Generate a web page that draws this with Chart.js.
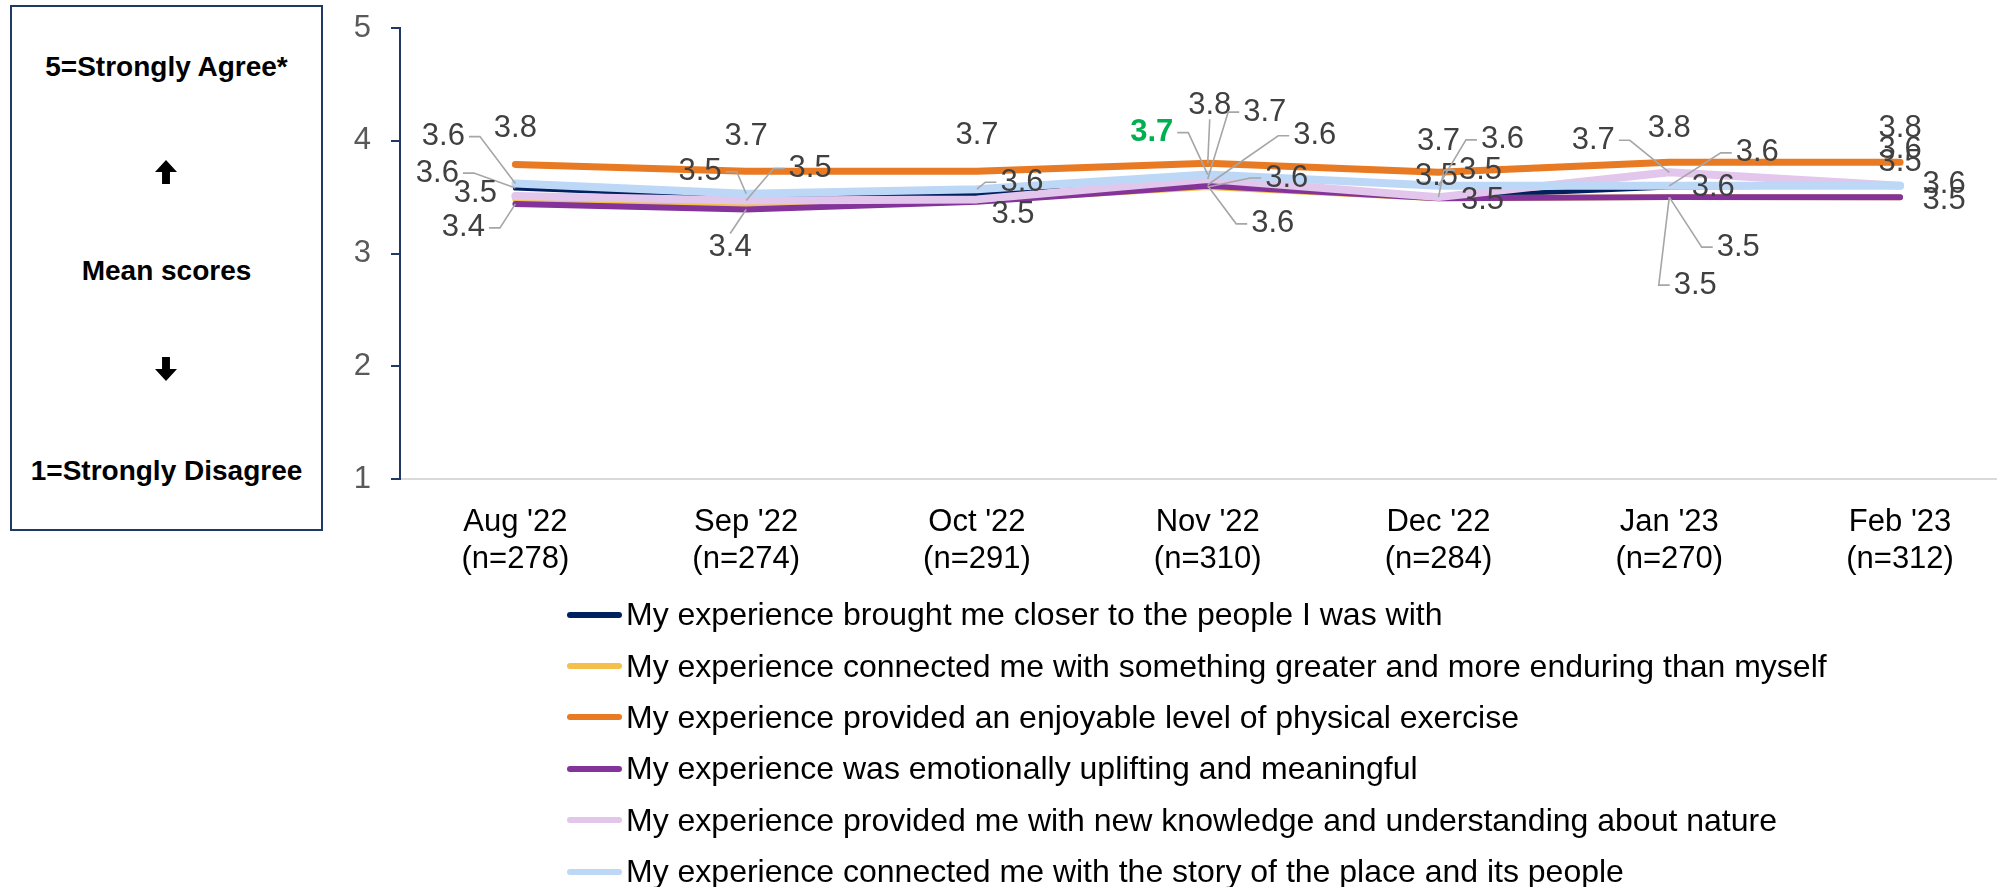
<!DOCTYPE html>
<html>
<head>
<meta charset="utf-8">
<script src="https://cdn.jsdelivr.net/npm/chart.js@4.4.1/dist/chart.umd.min.js"></script>
<style>
  body { margin: 0; background: #fff; font-family: Arial, "Liberation Sans", sans-serif; }
  #wrap { position: relative; width: 1997px; height: 887px; overflow: hidden; }
  #grafico { position: absolute; left: 0; top: 0; }
  #escala { position: absolute; left: 10px; top: 5px; width: 309px; height: 522px; border: 2px solid #1f3864; }
  #escala div { position: absolute; left: 0; width: 100%; text-align: center; font-weight: bold; font-size: 28px; color: #000; transform: translateY(-50%); }
  #escala .flecha { left: 143px; width: 22px; height: 24px; background: #000; }
  #escala .arriba { clip-path: polygon(50% 0, 100% 50%, 68% 50%, 68% 100%, 32% 100%, 32% 50%, 0 50%); }
  #escala .abajo { clip-path: polygon(50% 100%, 100% 50%, 68% 50%, 68% 0, 32% 0, 32% 50%, 0 50%); }
  #leyenda { position: absolute; left: 567px; top: 589px; }
  .fila { display: flex; align-items: center; height: 51.4px; font-size: 32px; color: #000; white-space: nowrap; }
  .linea { width: 55px; height: 6px; border-radius: 3px; margin-right: 4px; }
</style>
</head>
<body>
<div id="wrap">
  <div id="escala">
    <div style="top:60px">5=Strongly Agree*</div>
    <div class="flecha arriba" style="top:165px"></div>
    <div style="top:264px">Mean scores</div>
    <div class="flecha abajo" style="top:362px"></div>
    <div style="top:464px">1=Strongly Disagree</div>
  </div>
  <canvas id="grafico" width="1997" height="600"></canvas>
  <div id="leyenda"></div>
</div>
<script>
const meses = ["Aug '22", "Sep '22", "Oct '22", "Nov '22", "Dec '22", "Jan '23", "Feb '23"];
const muestras = ["(n=278)", "(n=274)", "(n=291)", "(n=310)", "(n=284)", "(n=270)", "(n=312)"];

const closerPeople = [3.58, 3.50, 3.53, 3.61, 3.50, 3.59, 3.60];
const somethingGreater = [3.48, 3.43, 3.47, 3.59, 3.49, 3.50, 3.50];
const physicalExercise = [3.79, 3.73, 3.73, 3.80, 3.72, 3.81, 3.81];
const uplifting = [3.44, 3.39, 3.46, 3.60, 3.49, 3.50, 3.50];
const newKnowledge = [3.51, 3.47, 3.48, 3.66, 3.50, 3.72, 3.60];
const storyOfPlace = [3.62, 3.53, 3.57, 3.70, 3.60, 3.60, 3.60];

const nombres = [
  "My experience brought me closer to the people I was with",
  "My experience connected me with something greater and more enduring than myself",
  "My experience provided an enjoyable level of physical exercise",
  "My experience was emotionally uplifting and meaningful",
  "My experience provided me with new knowledge and understanding about nature",
  "My experience connected me with the story of the place and its people"
];
const series = [closerPeople, somethingGreater, physicalExercise, uplifting, newKnowledge, storyOfPlace];
const colores = ["#002060", "#f5c04a", "#e97a24", "#833399", "#e2c6ec", "#bdd7f7"];
const grosores = [5, 6, 7, 6, 8, 8];

// label placement relative to each point: [dx, dy, leader line]; null = label hidden
const etiquetas = [
  [[-78, -15, true], null, null, [107, -49, true], [-2, -21, false], [44, 0, false], [0, -36, false]],
  [null, null, null, [79, -9, true], null, [26, 88, true], [0, -35, false]],
  [[0, -36, false], [0, -35, false], [0, -36, false], [2, -58, true], [0, -31, false], [0, -34, false], [0, -34, false]],
  [[-52, 24, true], [-16, 38, true], [36, 13, false], [65, 38, true], [44, 2, false], [69, 50, true], [44, 3, false]],
  [[-40, -3, false], [64, -32, true], null, [57, -67, true], [42, -27, true], [-76, -32, true], null],
  [[-72, -47, true], [-46, -22, true], [45, -7, true], [-56, -42, true], [64, -46, true], [88, -33, true], [44, -1, false]]
];
// Nov '22 story-of-place label is highlighted in the original
const resaltado = { serie: 5, punto: 3 };

const fuente = 'Arial, "Liberation Sans", sans-serif';

const etiquetasPlugin = {
  id: "etiquetas",
  afterDatasetsDraw(chart) {
    const ctx = chart.ctx;
    ctx.save();
    ctx.textAlign = "center";
    ctx.textBaseline = "middle";
    chart.data.datasets.forEach((ds, di) => {
      const meta = chart.getDatasetMeta(di);
      meta.data.forEach((pt, i) => {
        const spot = etiquetas[di][i];
        if (!spot) return;
        const texto = series[di][i].toFixed(1);
        const esVerde = di === resaltado.serie && i === resaltado.punto;
        ctx.font = (esVerde ? "bold " : "") + "31px " + fuente;
        const w = ctx.measureText(texto).width;
        const cx = pt.x + spot[0];
        const cy = pt.y + spot[1];
        if (spot[2]) {
          ctx.strokeStyle = "#a6a6a6";
          ctx.lineWidth = 1.6;
          ctx.beginPath();
          if (Math.abs(spot[0]) < w / 2) {
            const sy = spot[1] < 0 ? cy + 14 : cy - 14;
            ctx.moveTo(cx, sy);
          } else {
            const lado = spot[0] < 0 ? 1 : -1;
            const sx = cx + lado * (w / 2 + 4);
            ctx.moveTo(sx, cy);
            ctx.lineTo(sx + lado * 11, cy);
          }
          ctx.lineTo(pt.x, pt.y);
          ctx.stroke();
        }
        ctx.fillStyle = esVerde ? "#00b050" : "#404040";
        ctx.fillText(texto, cx, cy);
      });
    });
    ctx.restore();
  }
};

const ctx = document.getElementById("grafico").getContext("2d");
new Chart(ctx, {
  type: "line",
  data: {
    datasets: series.map((valores, k) => ({
      label: nombres[k],
      data: valores.map((v, i) => ({ x: i, y: v })),
      borderColor: colores[k],
      borderWidth: grosores[k],
      borderCapStyle: "round",
      borderJoinStyle: "round",
      pointRadius: 0,
      tension: 0,
      order: 5 - k
    }))
  },
  options: {
    responsive: false,
    animation: false,
    layout: { padding: { left: 340, top: 28, right: 0, bottom: 0 } },
    plugins: { legend: { display: false }, tooltip: { enabled: false } },
    scales: {
      x: {
        type: "linear",
        min: -0.5,
        max: 6.42,
        afterBuildTicks: s => { s.ticks = meses.map((m, i) => ({ value: i })); },
        afterFit: s => { s.height = 121; },
        ticks: {
          callback: v => [meses[v], muestras[v]],
          color: "#000",
          font: { size: 31, family: fuente, lineHeight: 1.2 },
          padding: 25,
          autoSkip: false,
          maxRotation: 0
        },
        grid: { display: true, drawOnChartArea: false, drawTicks: false },
        border: { color: "#d9d9d9", width: 2 }
      },
      y: {
        min: 1,
        max: 5,
        afterFit: s => { s.width = 60; s.paddingTop = 0; s.paddingBottom = 0; },
        ticks: { stepSize: 1, color: "#595959", font: { size: 31, family: fuente }, padding: 20 },
        grid: { drawOnChartArea: false, color: "#1f3864", lineWidth: 2, tickLength: 9 },
        border: { color: "#1f3864", width: 2 }
      }
    }
  },
  plugins: [etiquetasPlugin]
});

const leyenda = document.getElementById("leyenda");
nombres.forEach((n, k) => {
  const fila = document.createElement("div");
  fila.className = "fila";
  const linea = document.createElement("span");
  linea.className = "linea";
  linea.style.background = colores[k];
  const txt = document.createElement("span");
  txt.textContent = n;
  fila.appendChild(linea);
  fila.appendChild(txt);
  leyenda.appendChild(fila);
});
</script>
</body>
</html>
